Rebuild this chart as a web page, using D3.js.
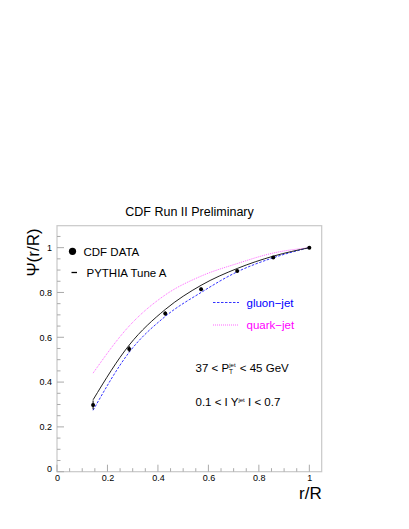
<!DOCTYPE html>
<html><head><meta charset="utf-8">
<script src="https://cdn.jsdelivr.net/npm/d3@7"></script>
<style>body{margin:0;background:#fff}svg{display:block}text{font-family:"Liberation Sans",Arial,Helvetica,sans-serif}</style>
</head><body>
<svg id="c" width="409" height="529"></svg>
<script>
const rVals = [0.143, 0.286, 0.429, 0.571, 0.714, 0.857, 1.0];
const cdfData = [0.298, 0.548, 0.706, 0.814, 0.896, 0.956, 1.0];
const cdfErr = [0.02, 0.014, 0.01, 0.008, 0.006, 0.004, 0.0];
const pythia = [0.321, 0.565, 0.724, 0.832, 0.907, 0.962, 1.0];
const gluon = [0.274, 0.533, 0.693, 0.800, 0.892, 0.955, 1.0];
const quark = [0.440, 0.650, 0.789, 0.873, 0.929, 0.976, 1.0];
const xTicks = [0, 0.2, 0.4, 0.6, 0.8, 1];
const yTicks = [0, 0.2, 0.4, 0.6, 0.8, 1];

const svg = d3.select("#c");
const x = d3.scaleLinear().domain([0, 1.049]).range([57, 321.7]);
const y = d3.scaleLinear().domain([0, 1.098]).range([471.7, 225.7]);
const frameCol = "#c8c8c8";

// frame
svg.append("rect").attr("x", x(0)).attr("y", y(1.098)).attr("width", x(1.049) - x(0)).attr("height", y(0) - y(1.098))
  .attr("fill", "none").attr("stroke", frameCol).attr("stroke-width", 1.2);

const isMajor = d => Math.abs(Math.round(d * 10) / 10 - d) < 1e-6 && Math.round(d * 10) % 2 === 0;
// minor/major ticks (ROOT style: inside)
const xMinor = d3.range(0, 1.049, 0.05);
svg.append("g").selectAll("line").data(xMinor).join("line")
  .attr("x1", d => x(d)).attr("x2", d => x(d))
  .attr("y1", y(0)).attr("y2", d => y(0) - (isMajor(d) ? 7 : 3.5))
  .attr("stroke", "#aaa").attr("stroke-width", 1);
const yMinor = d3.range(0, 1.098, 0.05);
svg.append("g").selectAll("line").data(yMinor).join("line")
  .attr("y1", d => y(d)).attr("y2", d => y(d))
  .attr("x1", x(0)).attr("x2", d => x(0) + (isMajor(d) ? 7 : 3.5))
  .attr("stroke", "#aaa").attr("stroke-width", 1);

// tick labels via axis generators
const fmt = d => d === 0 ? "0" : d3.format("~g")(d);
const xAxis = svg.append("g").attr("transform", `translate(0,${y(0)})`)
  .call(d3.axisBottom(x).tickValues(xTicks).tickSize(0).tickPadding(3).tickFormat(fmt));
xAxis.select(".domain").remove();
xAxis.selectAll("text").attr("font-size", 9).attr("fill", "#000").attr("font-family", "Liberation Sans, Arial, sans-serif");
const yAxis = svg.append("g").attr("transform", `translate(${x(0)},0)`)
  .call(d3.axisLeft(y).tickValues(yTicks).tickSize(0).tickPadding(5).tickFormat(fmt));
yAxis.select(".domain").remove();
yAxis.selectAll("text").attr("font-size", 9).attr("fill", "#000").attr("font-family", "Liberation Sans, Arial, sans-serif");
yAxis.selectAll(".tick").filter(d => d === 0).select("text").attr("dy", "-0.05em");

// curves
const pts = arr => rVals.map((r, i) => [r, arr[i]]);
const line = d3.line().x(d => x(d[0])).y(d => y(d[1])).curve(d3.curveMonotoneX);
svg.append("path").attr("d", line(pts(quark))).attr("fill", "none").attr("stroke", "#ff66ff").attr("stroke-width", 1).attr("stroke-dasharray", "1,1");
svg.append("path").attr("d", line(pts(gluon))).attr("fill", "none").attr("stroke", "#3333ff").attr("stroke-width", 1).attr("stroke-dasharray", "2.5,1.5");
svg.append("path").attr("d", line(pts(pythia))).attr("fill", "none").attr("stroke", "#222").attr("stroke-width", 1);

// data points with error bars
const dg = svg.append("g");
dg.selectAll("line").data(pts(cdfData)).join("line")
  .attr("x1", d => x(d[0])).attr("x2", d => x(d[0]))
  .attr("y1", (d, i) => y(d[1] - cdfErr[i])).attr("y2", (d, i) => y(d[1] + cdfErr[i]))
  .attr("stroke", "#000").attr("stroke-width", 1);
dg.selectAll("circle").data(pts(cdfData)).join("circle")
  .attr("cx", d => x(d[0])).attr("cy", d => y(d[1])).attr("r", 2).attr("fill", "#000");

// legend
svg.append("circle").attr("cx", 72.5).attr("cy", 251.3).attr("r", 3.6).attr("fill", "#000");
svg.append("text").attr("x", 83.5).attr("y", 255.5).attr("font-size", 11.5).text("CDF DATA");
svg.append("line").attr("x1", 71.5).attr("x2", 77).attr("y1", 272.5).attr("y2", 272.5).attr("stroke", "#000").attr("stroke-width", 1.3);
svg.append("text").attr("x", 86.5).attr("y", 277).attr("font-size", 11.5).text("PYTHIA Tune A");

svg.append("line").attr("x1", 213).attr("x2", 239).attr("y1", 302.5).attr("y2", 302.5).attr("stroke", "#3333ff").attr("stroke-dasharray", "2.5,1.5");
svg.append("text").attr("x", 246.5).attr("y", 306.5).attr("font-size", 11.5).attr("fill", "#0000ff").text("gluon\u2212jet");
svg.append("line").attr("x1", 213).attr("x2", 239).attr("y1", 325).attr("y2", 325).attr("stroke", "#ff66ff").attr("stroke-dasharray", "1,1");
svg.append("text").attr("x", 246.5).attr("y", 329).attr("font-size", 11.5).attr("fill", "#ff00ff").text("quark\u2212jet");

// annotations
const a1 = svg.append("text").attr("x", 195.5).attr("y", 371.5).attr("font-size", 11.5);
a1.append("tspan").text("37 < P");
a1.append("tspan").attr("font-size", 6.5).attr("dy", 2.5).text("T");
a1.append("tspan").attr("font-size", 6).attr("dy", -7).attr("dx", -3.8).text("jet");
a1.append("tspan").attr("dy", 4.5).attr("dx", 1).text(" < 45 GeV");
const a2 = svg.append("text").attr("x", 195.5).attr("y", 405.5).attr("font-size", 11.5);
a2.append("tspan").text("0.1 < I Y");
a2.append("tspan").attr("font-size", 6).attr("dy", -4).text("jet");
a2.append("tspan").attr("dy", 4).text(" I < 0.7");

// title
svg.append("text").attr("x", 189.5).attr("y", 215.5).attr("text-anchor", "middle").attr("font-size", 12.5).text("CDF Run II Preliminary");

// axis titles
svg.append("text").attr("x", 321.7).attr("y", 498.5).attr("text-anchor", "end").attr("font-size", 17).text("r/R");
svg.append("text").attr("transform", "translate(39,252.5) rotate(-90)").attr("text-anchor", "middle").attr("font-size", 17).text("\u03A8(r/R)");
</script>
</body></html>
